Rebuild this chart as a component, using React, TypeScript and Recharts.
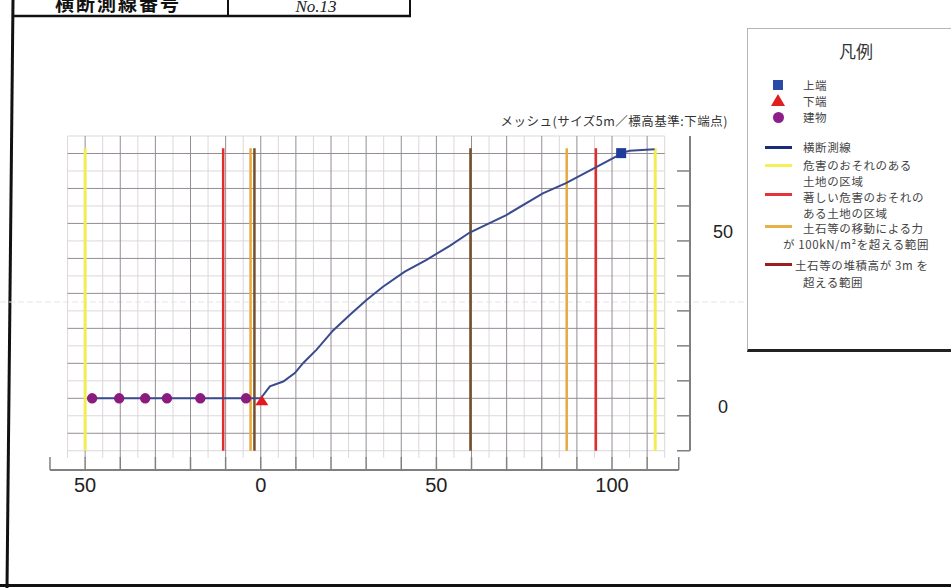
import React from "react";
import {
  ComposedChart,
  Line,
  ReferenceLine,
  Scatter,
  XAxis,
  YAxis,
} from "recharts";

// Profile of the survey line (horizontal distance m / elevation m).
const PROFILE_X = [
  -48, 0, 2.6, 6.4, 9.7, 12.1, 15.9, 20.6, 25.4, 30.1, 34.8, 41.0, 47.2, 53.8,
  59.5, 69.9, 80.3, 86.9, 95.5, 101.1, 102.6, 105, 112.1,
];
const PROFILE_Y = [
  0, 0, 3.4, 4.8, 7.2, 10.1, 13.9, 19.4, 23.9, 28.1, 31.9, 36.2, 39.6, 43.6,
  47.4, 52.4, 58.6, 61.5, 66.1, 69.1, 70.1, 70.8, 71.2,
];

// Buildings, lower end, upper end
const BUILDING_X = [-48, -40.3, -32.9, -26.7, -17.2, -4.2];
const BUILDING_Y = [0, 0, 0, 0, 0, 0];
const LOWER_END_X = [0.3];
const LOWER_END_Y = [0];
const UPPER_END_X = [102.6];
const UPPER_END_Y = [70.1];

// Zone boundaries drawn as vertical lines
const YELLOW_X = [-50, 112.3];
const RED_X = [-10.7, 95.4];
const ORANGE_X = [-2.9, 87.1];
const BROWN_X = [-1.8, 59.7];
const ZONE_TOP = 71.5;
const ZONE_BOTTOM = -15;

// Mesh (5 m) grid
const GRID_MAJOR_X = [-50, -40, -30, -20, -10, 0, 10, 20, 30, 40, 50, 60, 70, 80, 90, 100, 110];
const GRID_MINOR_X = [-55, -45, -35, -25, -15, -5, 5, 15, 25, 35, 45, 55, 65, 75, 85, 95, 105, 115];
const GRID_MAJOR_Y = [-10, 0, 10, 20, 30, 40, 50, 60, 70];
const GRID_MINOR_Y = [-15, -5, 5, 15, 25, 35, 45, 55, 65, 75];
const GRID_LEFT = -55;
const GRID_RIGHT = 115;
const GRID_BOTTOM = -17;
const GRID_TOP = 75;

// Axes
const X_MIN = -60;
const X_MAX = 122.2;
const Y_MIN = -20.5;
const Y_MAX = 75;
const X_AXIS_END = 119;
const X_TICKS = [-60, -50, -40, -30, -20, -10, 0, 10, 20, 30, 40, 50, 60, 70, 80, 90, 100, 110, 119];
const X_LABELS = [-50, 0, 50, 100];
const Y_TICKS = [-15, -5, 5, 15, 25, 35, 45, 55, 65];
const Y_LABELS = [0, 50];

const zip = (xs: number[], ys: number[]) => xs.map((x, i) => ({ x, y: ys[i] }));

const profile = zip(PROFILE_X, PROFILE_Y);
const buildings = zip(BUILDING_X, BUILDING_Y);
const lowerEnd = zip(LOWER_END_X, LOWER_END_Y);
const upperEnd = zip(UPPER_END_X, UPPER_END_Y);

const NUM_FONT = "'Liberation Sans', Arial, sans-serif";
const JP_FONT = "'Noto Sans CJK JP', 'Noto Sans', sans-serif";

const C_YELLOW = "#f3ec52";
const C_RED = "#e32b2b";
const C_ORANGE = "#e9a93c";
const C_BROWN = "#74502a";
const C_LINE = "#3a4a8e";

function BuildingDot(p: any) {
  return <circle cx={p.cx} cy={p.cy} r={5.2} fill="#8a1c80" />;
}

function TriangleMark(p: any) {
  const { cx, cy } = p;
  return (
    <polygon
      points={`${cx},${cy - 3} ${cx - 6.5},${cy + 7} ${cx + 6.5},${cy + 7}`}
      fill="#e3191f"
    />
  );
}

function SquareMark(p: any) {
  return <rect x={p.cx - 5} y={p.cy - 5} width={10} height={10} fill="#1e3c9a" />;
}

function YLabel(p: any) {
  return (
    <text
      x={p.x + 25}
      y={p.y + 8}
      dy="0.35em"
      textAnchor="middle"
      fontSize={18}
      fill="#222"
      fontFamily={NUM_FONT}
    >
      {p.payload.value}
    </text>
  );
}

const legendText: React.CSSProperties = {
  position: "absolute",
  fontSize: 11.5,
  lineHeight: "12px",
  letterSpacing: 0.6,
  color: "#444",
  whiteSpace: "nowrap",
  fontFamily: JP_FONT,
};

function LText({ x, y, children }: { x: number; y: number; children: React.ReactNode }) {
  return <div style={{ ...legendText, left: x, top: y - 6 }}>{children}</div>;
}

function LSwatch({ y, color }: { y: number; color: string }) {
  return (
    <div
      style={{ position: "absolute", left: 765, top: y - 1.5, width: 27, height: 3, background: color }}
    />
  );
}

export default function App() {
  return (
    <div
      style={{
        position: "absolute",
        left: 0,
        top: 0,
        width: 951,
        height: 588,
        background: "#fff",
        overflow: "hidden",
      }}
    >
      {/* page frame and header table */}
      <svg width={951} height={588} style={{ position: "absolute", left: 0, top: 0 }}>
        <line x1={13} y1={0} x2={7} y2={588} stroke="#111" strokeWidth={3} />
        <line x1={12} y1={16} x2={411} y2={16} stroke="#111" strokeWidth={2.5} />
        <line x1={228} y1={0} x2={228} y2={16} stroke="#111" strokeWidth={2} />
        <line x1={410} y1={0} x2={410} y2={16} stroke="#111" strokeWidth={2} />
        <line x1={0} y1={585.5} x2={951} y2={585.5} stroke="#111" strokeWidth={3} />
        <line x1={0} y1={302} x2={951} y2={302} stroke="#e4e4e4" strokeWidth={1} strokeDasharray="6 3" />
        <text
          x={118}
          y={11}
          textAnchor="middle"
          fontSize={19}
          fontWeight={700}
          letterSpacing={2}
          fill="#111"
          fontFamily={JP_FONT}
        >
          横断測線番号
        </text>
        <text
          x={316}
          y={12}
          textAnchor="middle"
          fontSize={17}
          fontStyle="italic"
          fill="#222"
          fontFamily="'Liberation Serif', serif"
        >
          No.13
        </text>
      </svg>

      <div
        style={{
          position: "absolute",
          right: 223,
          top: 114,
          fontSize: 12.5,
          lineHeight: "14px",
          letterSpacing: 0.5,
          color: "#333",
          whiteSpace: "nowrap",
          fontFamily: JP_FONT,
        }}
      >
        メッシュ(サイズ5m／標高基準:下端点)
      </div>

      <div style={{ position: "absolute", left: 0, top: 0 }}>
        <ComposedChart
          width={951}
          height={588}
          margin={{ top: 136, right: 201, bottom: 88, left: 50 }}
        >
          <XAxis
            dataKey="x"
            type="number"
            domain={[X_MIN, X_MAX]}
            allowDataOverflow
            ticks={X_LABELS}
            interval={0}
            tickFormatter={(v: number) => String(Math.abs(v))}
            axisLine={false}
            tickLine={false}
            tick={{ fontSize: 20, fill: "#222", fontFamily: NUM_FONT }}
            height={30}
          />
          <YAxis
            dataKey="y"
            type="number"
            orientation="right"
            domain={[Y_MIN, Y_MAX]}
            allowDataOverflow
            ticks={Y_LABELS}
            interval={0}
            axisLine={false}
            tickLine={false}
            tick={<YLabel />}
            width={60}
          />

          {GRID_MINOR_X.map((x) => (
            <ReferenceLine
              key={`gmx${x}`}
              segment={[{ x, y: GRID_BOTTOM }, { x, y: GRID_TOP }]}
              stroke="#ddd6dc"
              strokeWidth={1}
              ifOverflow="visible"
            />
          ))}
          {GRID_MINOR_Y.map((y) => (
            <ReferenceLine
              key={`gmy${y}`}
              segment={[{ x: GRID_LEFT, y }, { x: GRID_RIGHT, y }]}
              stroke="#ddd6dc"
              strokeWidth={1}
              ifOverflow="visible"
            />
          ))}
          {GRID_MAJOR_X.map((x) => (
            <ReferenceLine
              key={`gx${x}`}
              segment={[{ x, y: GRID_BOTTOM }, { x, y: GRID_TOP }]}
              stroke="#948c96"
              strokeWidth={1}
              ifOverflow="visible"
            />
          ))}
          {GRID_MAJOR_Y.map((y) => (
            <ReferenceLine
              key={`gy${y}`}
              segment={[{ x: GRID_LEFT, y }, { x: GRID_RIGHT, y }]}
              stroke="#948c96"
              strokeWidth={1}
              ifOverflow="visible"
            />
          ))}

          {/* bottom axis with upward ticks */}
          <ReferenceLine
            segment={[{ x: X_MIN, y: Y_MIN }, { x: X_AXIS_END, y: Y_MIN }]}
            stroke="#808080"
            strokeWidth={2}
            ifOverflow="visible"
          />
          {X_TICKS.map((x) => (
            <ReferenceLine
              key={`xt${x}`}
              segment={[{ x, y: Y_MIN }, { x, y: Y_MIN + 3.7 }]}
              stroke="#808080"
              strokeWidth={1.5}
              ifOverflow="visible"
            />
          ))}

          {/* right axis with inward ticks */}
          <ReferenceLine
            segment={[{ x: X_MAX, y: -15 }, { x: X_MAX, y: Y_MAX }]}
            stroke="#808080"
            strokeWidth={2}
            ifOverflow="visible"
          />
          {Y_TICKS.map((y) => (
            <ReferenceLine
              key={`yt${y}`}
              segment={[{ x: X_MAX - 3.7, y }, { x: X_MAX, y }]}
              stroke="#808080"
              strokeWidth={1.5}
              ifOverflow="visible"
            />
          ))}

          {/* zone boundaries */}
          {YELLOW_X.map((x) => (
            <ReferenceLine
              key={`yl${x}`}
              segment={[{ x, y: ZONE_BOTTOM }, { x, y: ZONE_TOP }]}
              stroke={C_YELLOW}
              strokeWidth={3}
              ifOverflow="visible"
            />
          ))}
          {RED_X.map((x) => (
            <ReferenceLine
              key={`rd${x}`}
              segment={[{ x, y: ZONE_BOTTOM }, { x, y: ZONE_TOP }]}
              stroke={C_RED}
              strokeWidth={2.5}
              ifOverflow="visible"
            />
          ))}
          {ORANGE_X.map((x) => (
            <ReferenceLine
              key={`or${x}`}
              segment={[{ x, y: ZONE_BOTTOM }, { x, y: ZONE_TOP }]}
              stroke={C_ORANGE}
              strokeWidth={2.5}
              ifOverflow="visible"
            />
          ))}
          {BROWN_X.map((x) => (
            <ReferenceLine
              key={`br${x}`}
              segment={[{ x, y: ZONE_BOTTOM }, { x, y: ZONE_TOP }]}
              stroke={C_BROWN}
              strokeWidth={2.5}
              ifOverflow="visible"
            />
          ))}

          <Line
            data={profile}
            dataKey="y"
            type="linear"
            stroke={C_LINE}
            strokeWidth={2}
            dot={false}
            activeDot={false}
            isAnimationActive={false}
          />
          <Scatter data={buildings} dataKey="y" shape={<BuildingDot />} isAnimationActive={false} />
          <Scatter data={lowerEnd} dataKey="y" shape={<TriangleMark />} isAnimationActive={false} />
          <Scatter data={upperEnd} dataKey="y" shape={<SquareMark />} isAnimationActive={false} />
        </ComposedChart>
      </div>

      {/* legend */}
      <div
        style={{
          position: "absolute",
          left: 747,
          top: 28,
          width: 230,
          height: 320,
          borderLeft: "1px solid #b5b5b5",
          borderTop: "1px solid #b5b5b5",
          borderBottom: "3px solid #222",
          background: "#fff",
        }}
      />
      <div
        style={{
          position: "absolute",
          left: 856,
          top: 50,
          transform: "translate(-50%, -50%)",
          fontSize: 17,
          color: "#333",
          fontFamily: JP_FONT,
          whiteSpace: "nowrap",
        }}
      >
        凡例
      </div>
      <div style={{ position: "absolute", left: 773, top: 80, width: 10, height: 10, background: "#2a4aa8" }} />
      <LText x={803} y={85}>上端</LText>
      <svg width={14} height={12} style={{ position: "absolute", left: 771, top: 94 }}>
        <polygon points="7,0 0,12 14,12" fill="#e02020" />
      </svg>
      <LText x={803} y={101}>下端</LText>
      <div
        style={{
          position: "absolute",
          left: 773,
          top: 112,
          width: 11,
          height: 11,
          borderRadius: "50%",
          background: "#8e1e8a",
        }}
      />
      <LText x={803} y={117}>建物</LText>

      <LSwatch y={147} color="#1c2a7a" />
      <LText x={803} y={147}>横断測線</LText>
      <LSwatch y={165} color="#f5ef5a" />
      <LText x={803} y={165}>危害のおそれのある</LText>
      <LText x={803} y={181}>土地の区域</LText>
      <LSwatch y={194} color="#e5333a" />
      <LText x={803} y={197}>著しい危害のおそれの</LText>
      <LText x={803} y={213}>ある土地の区域</LText>
      <LSwatch y={226} color="#e8b04a" />
      <LText x={803} y={228}>土石等の移動による力</LText>
      <LText x={783} y={244}>が 100kN/m²を超える範囲</LText>
      <LSwatch y={264} color="#9a1e1e" />
      <LText x={795} y={265}>土石等の堆積高が 3m を</LText>
      <LText x={803} y={282}>超える範囲</LText>
    </div>
  );
}
